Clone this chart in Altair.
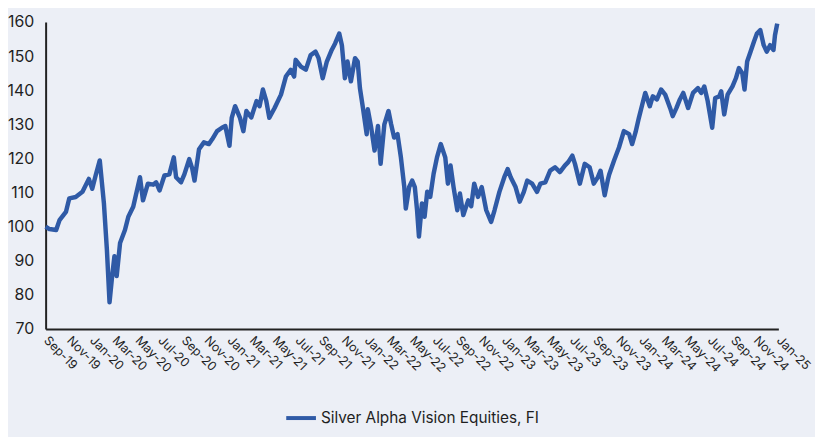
import altair as alt
import pandas as pd

series_name = "Silver Alpha Vision Equities, FI"

dates = [
    "2019-09-01", "2019-09-11", "2019-09-29", "2019-10-08", "2019-10-25", "2019-11-03", "2019-11-20",
    "2019-12-08", "2019-12-25", "2020-01-03", "2020-01-12", "2020-01-23", "2020-02-03", "2020-02-11",
    "2020-02-18", "2020-02-24", "2020-03-02", "2020-03-08", "2020-03-17", "2020-03-30", "2020-04-08",
    "2020-04-21", "2020-05-09", "2020-05-17", "2020-05-30", "2020-06-13", "2020-06-21", "2020-06-30",
    "2020-07-13", "2020-07-26", "2020-08-07", "2020-08-13", "2020-08-26", "2020-09-04", "2020-09-17",
    "2020-09-25", "2020-10-01", "2020-10-13", "2020-10-26", "2020-11-08", "2020-11-17", "2020-11-30",
    "2020-12-13", "2020-12-22", "2021-01-02", "2021-01-08", "2021-01-17", "2021-01-30", "2021-02-08",
    "2021-02-16", "2021-03-01", "2021-03-15", "2021-03-23", "2021-04-01", "2021-04-10", "2021-04-18",
    "2021-05-02", "2021-05-19", "2021-06-01", "2021-06-14", "2021-06-23", "2021-06-27", "2021-07-11",
    "2021-07-24", "2021-08-06", "2021-08-19", "2021-08-27", "2021-09-07", "2021-09-18", "2021-10-01",
    "2021-10-10", "2021-10-21", "2021-10-28", "2021-11-05", "2021-11-12", "2021-11-21", "2021-12-02",
    "2021-12-09", "2021-12-15", "2021-12-23", "2022-01-02", "2022-01-05", "2022-01-14", "2022-01-23",
    "2022-02-01", "2022-02-08", "2022-02-18", "2022-03-01", "2022-03-08", "2022-03-16", "2022-03-25",
    "2022-04-03", "2022-04-12", "2022-04-16", "2022-04-25", "2022-05-03", "2022-05-10", "2022-05-16",
    "2022-05-21", "2022-05-29", "2022-06-05", "2022-06-12", "2022-06-20", "2022-06-29", "2022-07-08",
    "2022-07-18", "2022-07-30", "2022-08-06", "2022-08-13", "2022-08-21", "2022-08-31", "2022-09-07",
    "2022-09-16", "2022-09-29", "2022-10-07", "2022-10-15", "2022-10-25", "2022-11-04", "2022-11-16",
    "2022-11-29", "2022-12-08", "2022-12-21", "2023-01-03", "2023-01-12", "2023-01-20", "2023-02-02",
    "2023-02-13", "2023-02-24", "2023-03-05", "2023-03-18", "2023-03-31", "2023-04-09", "2023-04-22",
    "2023-05-05", "2023-05-18", "2023-05-31", "2023-06-13", "2023-06-22", "2023-07-03", "2023-07-10",
    "2023-07-23", "2023-08-05", "2023-08-18", "2023-08-29", "2023-09-09", "2023-09-16", "2023-09-27",
    "2023-10-05", "2023-10-09", "2023-10-22", "2023-11-04", "2023-11-17", "2023-12-01", "2023-12-09",
    "2023-12-18", "2023-12-27", "2024-01-05", "2024-01-13", "2024-01-25", "2024-02-02", "2024-02-13",
    "2024-02-24", "2024-03-06", "2024-03-19", "2024-03-26", "2024-04-05", "2024-04-14", "2024-04-23",
    "2024-05-06", "2024-05-19", "2024-06-01", "2024-06-10", "2024-06-18", "2024-06-27", "2024-07-09",
    "2024-07-17", "2024-07-28", "2024-08-02", "2024-08-10", "2024-08-19", "2024-09-01", "2024-09-10",
    "2024-09-18", "2024-09-27", "2024-10-03", "2024-10-10", "2024-10-19", "2024-10-28", "2024-11-05",
    "2024-11-14", "2024-11-23", "2024-12-01", "2024-12-10", "2024-12-19", "2024-12-23", "2024-12-29",
]

values = [
    100.0, 99.3, 99.0, 101.9, 104.3, 108.3, 108.7,
    110.2, 114.0, 111.1, 115.0, 119.4, 106.9, 93.2,
    77.8, 84.5, 91.3, 85.5, 95.2, 99.0, 102.9,
    105.8, 114.5, 107.7, 112.6, 112.3, 113.0, 110.6,
    115.0, 115.3, 120.3, 114.5, 113.0, 115.3, 119.8,
    117.0, 113.5, 122.7, 124.7, 124.2, 125.6, 128.0,
    129.0, 129.5, 123.7, 131.9, 135.3, 131.9, 128.0,
    133.9, 132.0, 136.8, 135.3, 140.2, 136.8, 131.9,
    134.8, 138.7, 144.0, 146.0, 144.0, 148.9, 146.9,
    146.0, 150.3, 151.3, 149.4, 143.5, 148.4, 151.8,
    153.7, 156.6, 153.2, 143.5, 148.4, 142.6, 149.4,
    148.4, 140.6, 134.8, 127.1, 134.4, 129.0, 122.3,
    129.5, 118.4, 130.0, 133.9, 130.0, 126.1, 127.1,
    120.3, 111.6, 105.3, 111.6, 113.5, 111.6, 104.8,
    97.1, 106.8, 102.9, 110.2, 108.7, 115.5, 120.3,
    124.2, 120.3, 112.6, 117.9, 111.6, 104.8, 109.7,
    103.4, 107.7, 106.0, 112.6, 108.7, 111.6, 104.8,
    101.4, 104.8, 110.2, 114.5, 116.9, 114.5, 111.6,
    107.3, 110.2, 113.5, 112.6, 110.2, 112.6, 113.0,
    116.4, 117.4, 116.0, 117.9, 118.9, 120.8, 118.4,
    112.6, 118.4, 117.4, 112.6, 114.5, 116.4, 109.2,
    113.5, 115.3, 119.4, 123.2, 128.0, 127.1, 124.2,
    127.6, 131.9, 135.8, 139.2, 135.3, 138.2, 137.3,
    140.2, 138.7, 134.8, 132.4, 134.8, 137.3, 139.2,
    134.8, 139.2, 140.6, 139.2, 141.1, 136.8, 129.0,
    137.7, 138.2, 139.7, 132.9, 138.7, 141.1, 143.5,
    146.5, 145.0, 140.2, 148.4, 151.3, 154.2, 156.6,
    157.6, 153.2, 151.3, 153.2, 151.8, 156.1, 159.5,
]

tick_dates = [
    (2019, 9), (2019, 11), (2020, 1), (2020, 3), (2020, 5), (2020, 7), (2020, 9), (2020, 11),
    (2021, 1), (2021, 3), (2021, 5), (2021, 7), (2021, 9), (2021, 11),
    (2022, 1), (2022, 3), (2022, 5), (2022, 7), (2022, 9), (2022, 11),
    (2023, 1), (2023, 3), (2023, 5), (2023, 7), (2023, 9), (2023, 11),
    (2024, 1), (2024, 3), (2024, 5), (2024, 7), (2024, 9), (2024, 11),
    (2025, 1),
]
y_ticks = [70, 80, 90, 100, 110, 120, 130, 140, 150, 160]

df = pd.DataFrame({"date": dates, "value": values, "series": series_name})

FONT = "Inter"
TEXT = "#1f1f1f"
BLUE = "#2f5aa6"
BG = "#eceff6"

x_axis = alt.Axis(
    values=[alt.DateTime(year=y, month=m, date=1, utc=True) for y, m in tick_dates],
    format="%b-%y",
    labelAngle=45,
    labelAlign="left",
    labelBaseline="middle",
    labelPadding=9,
    labelFontSize=12.5,
    labelColor=TEXT,
    labelFont=FONT,
    labelOverlap=False,
    labelFlush=False,
    ticks=False,
    grid=False,
    domainColor="#222222",
    domainWidth=2,
    title=None,
)

y_axis = alt.Axis(
    values=y_ticks,
    labelFontSize=16,
    labelColor=TEXT,
    labelFont=FONT,
    labelPadding=12,
    ticks=False,
    grid=False,
    domainColor="#222222",
    domainWidth=2,
    title=None,
)

chart = (
    alt.Chart(df)
    .mark_line(strokeWidth=4.5, strokeJoin="round")
    .encode(
        x=alt.X(
            "date:T",
            scale=alt.Scale(
                type="utc",
                domain=[
                    alt.DateTime(year=2019, month=9, date=1, utc=True),
                    alt.DateTime(year=2025, month=1, date=1, utc=True),
                ],
            ),
            axis=x_axis,
        ),
        y=alt.Y("value:Q", scale=alt.Scale(domain=[70, 160], nice=False, zero=False), axis=y_axis),
        color=alt.Color(
            "series:N",
            scale=alt.Scale(domain=[series_name], range=[BLUE]),
            legend=alt.Legend(
                title=None,
                orient="none",
                legendX=241,
                legendY=383,
                symbolType="stroke",
                symbolSize=900,
                symbolStrokeWidth=4,
                labelFontSize=15.5,
                labelFont=FONT,
                labelColor=TEXT,
                labelOffset=3,
                labelLimit=500,
            ),
        ),
    )
    .properties(
        width=740,
        height=310,
        autosize=alt.AutoSizeParams(type="none"),
        padding={"left": 38, "top": 12, "right": 37, "bottom": 107},
        background=BG,
    )
    .configure_view(stroke=None)
)

chart.save("out.html", embed_options={"renderer": "svg", "actions": False})
